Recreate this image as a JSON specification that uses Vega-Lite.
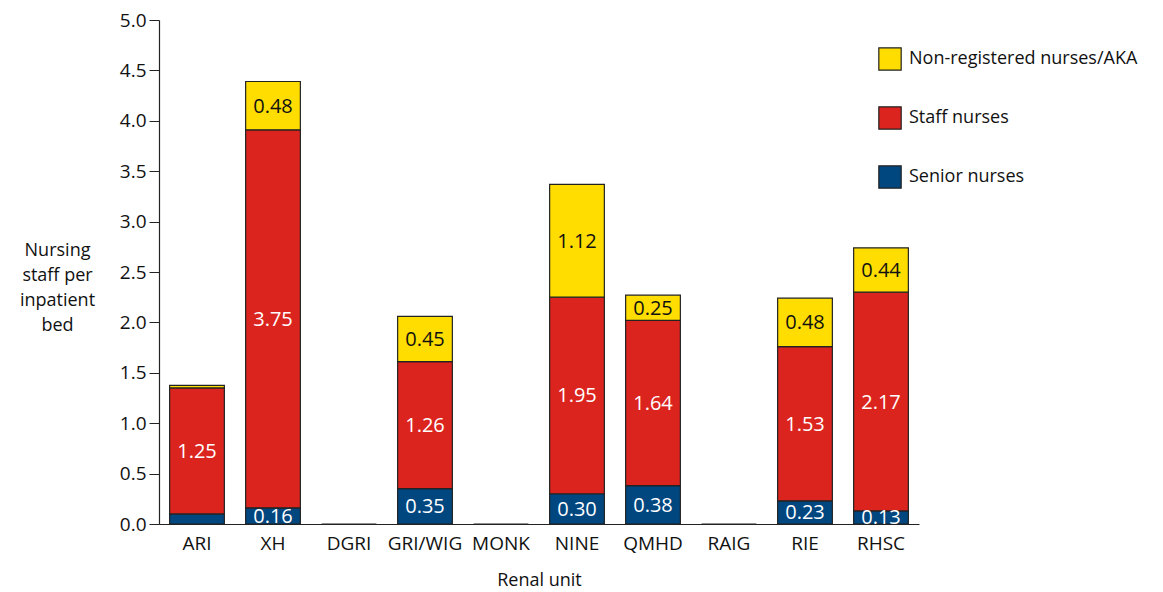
{
  "$schema": "https://vega.github.io/schema/vega-lite/v6.json",
  "autosize": {"type": "none"},
  "padding": {"left": 159, "top": 20, "right": 244, "bottom": 68},
  "width": 760,
  "height": 504,
  "config": {
    "font": "Open Sans",
    "view": {"stroke": null},
    "axis": {"labelFont": "Open Sans", "titleFont": "Open Sans", "labelFontSize": 19, "titleFontSize": 18, "titleFontWeight": "normal", "labelColor": "#111", "titleColor": "#111", "domainColor": "#222", "tickColor": "#222"}
  },
  "data": {
    "values": [
      {"unit": "ARI", "type": "Senior nurses", "ord": 1, "value": 0.10, "label": ""},
      {"unit": "ARI", "type": "Staff nurses", "ord": 2, "value": 1.25, "label": "1.25"},
      {"unit": "ARI", "type": "Non-registered nurses/AKA", "ord": 3, "value": 0.025, "label": ""},
      {"unit": "XH", "type": "Senior nurses", "ord": 1, "value": 0.16, "label": "0.16"},
      {"unit": "XH", "type": "Staff nurses", "ord": 2, "value": 3.75, "label": "3.75"},
      {"unit": "XH", "type": "Non-registered nurses/AKA", "ord": 3, "value": 0.48, "label": "0.48"},
      {"unit": "DGRI", "type": "Senior nurses", "ord": 1, "value": 0, "label": ""},
      {"unit": "GRI/WIG", "type": "Senior nurses", "ord": 1, "value": 0.35, "label": "0.35"},
      {"unit": "GRI/WIG", "type": "Staff nurses", "ord": 2, "value": 1.26, "label": "1.26"},
      {"unit": "GRI/WIG", "type": "Non-registered nurses/AKA", "ord": 3, "value": 0.45, "label": "0.45"},
      {"unit": "MONK", "type": "Senior nurses", "ord": 1, "value": 0, "label": ""},
      {"unit": "NINE", "type": "Senior nurses", "ord": 1, "value": 0.30, "label": "0.30"},
      {"unit": "NINE", "type": "Staff nurses", "ord": 2, "value": 1.95, "label": "1.95"},
      {"unit": "NINE", "type": "Non-registered nurses/AKA", "ord": 3, "value": 1.12, "label": "1.12"},
      {"unit": "QMHD", "type": "Senior nurses", "ord": 1, "value": 0.38, "label": "0.38"},
      {"unit": "QMHD", "type": "Staff nurses", "ord": 2, "value": 1.64, "label": "1.64"},
      {"unit": "QMHD", "type": "Non-registered nurses/AKA", "ord": 3, "value": 0.25, "label": "0.25"},
      {"unit": "RAIG", "type": "Senior nurses", "ord": 1, "value": 0, "label": ""},
      {"unit": "RIE", "type": "Senior nurses", "ord": 1, "value": 0.23, "label": "0.23"},
      {"unit": "RIE", "type": "Staff nurses", "ord": 2, "value": 1.53, "label": "1.53"},
      {"unit": "RIE", "type": "Non-registered nurses/AKA", "ord": 3, "value": 0.48, "label": "0.48"},
      {"unit": "RHSC", "type": "Senior nurses", "ord": 1, "value": 0.13, "label": "0.13"},
      {"unit": "RHSC", "type": "Staff nurses", "ord": 2, "value": 2.17, "label": "2.17"},
      {"unit": "RHSC", "type": "Non-registered nurses/AKA", "ord": 3, "value": 0.44, "label": "0.44"}
    ]
  },
  "transform": [
    {"stack": "value", "groupby": ["unit"], "sort": [{"field": "ord", "order": "ascending"}], "as": ["v0", "v1"]},
    {"calculate": "(datum.v0 + datum.v1) / 2", "as": "vmid"}
  ],
  "encoding": {
    "x": {
      "field": "unit", "type": "nominal",
      "sort": ["ARI", "XH", "DGRI", "GRI/WIG", "MONK", "NINE", "QMHD", "RAIG", "RIE", "RHSC"],
      "scale": {"paddingInner": 0.28, "paddingOuter": 0.14},
      "axis": {"title": "Renal unit", "labelAngle": 0, "ticks": false, "labelPadding": 10, "titlePadding": 18, "domainWidth": 1.2}
    }
  },
  "layer": [
    {
      "mark": {"type": "bar", "stroke": "#222", "strokeWidth": 1.2},
      "encoding": {
        "y": {
          "field": "v0", "type": "quantitative",
          "scale": {"domain": [0, 5], "nice": false},
          "axis": {
            "values": [0, 0.5, 1, 1.5, 2, 2.5, 3, 3.5, 4, 4.5, 5],
            "format": ".1f", "grid": false, "tickSize": 10, "labelPadding": 3, "domainWidth": 1.2,
            "title": ["Nursing", "staff per", "inpatient", "bed"],
            "titleAngle": 0, "titleAlign": "center", "titleBaseline": "alphabetic",
            "titleX": -102, "titleY": 235, "titleLineHeight": 25
          }
        },
        "y2": {"field": "v1"},
        "color": {
          "field": "type", "type": "nominal",
          "scale": {
            "domain": ["Non-registered nurses/AKA", "Staff nurses", "Senior nurses"],
            "range": ["#FFDD00", "#DC241F", "#00467F"]
          },
          "legend": {
            "title": null, "orient": "none", "legendX": 719, "legendY": 27,
            "symbolType": "square", "symbolSize": 500, "symbolStrokeColor": "#222", "symbolStrokeWidth": 1.2,
            "labelFontSize": 18, "labelFont": "Open Sans", "labelColor": "#111", "rowPadding": 31, "labelOffset": 7, "labelLimit": 400
          }
        }
      }
    },
    {
      "mark": {"type": "text", "fontSize": 20, "baseline": "middle", "align": "center", "dy": 1},
      "encoding": {
        "y": {"field": "vmid", "type": "quantitative"},
        "text": {"field": "label"},
        "color": {
          "condition": {"test": "datum.type === 'Non-registered nurses/AKA'", "value": "#111"},
          "value": "#ffffff"
        }
      }
    }
  ]
}
